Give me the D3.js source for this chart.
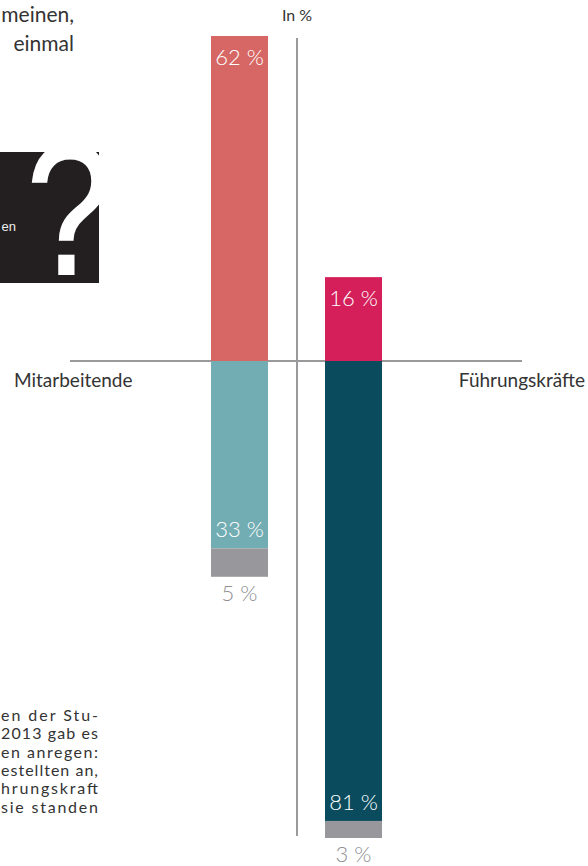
<!DOCTYPE html>
<html>
<head>
<meta charset="utf-8">
<script src="https://cdn.jsdelivr.net/npm/d3@7"></script>
<style>
  html, body { margin: 0; padding: 0; background: #fff; }
  svg { display: block; font-family: Lato, "Noto Sans", sans-serif; }
</style>
</head>
<body>
<div class="chart"></div>
<script>
// groups and answer shares (in %)
const categories = ["Mitarbeitende", "Führungskräfte"];
const yesValues = [62, 16];
const noValues = [33, 81];
const unsureValues = [5, 3];

const colorsYes = ["#D66764", "#D41F5A"];
const colorsNo = ["#72ADB3", "#0A4C5E"];
const colorUnsure = "#98979B";

// text fragments visible at the left edge
const introLines = ["meinen,", "einmal"];
const noteLines = ["en der Stu-", "2013 gab es", "en anregen:", "estellten an,", "hrungskraft", "sie standen"];

const width = 588;
const height = 866;

const svg = d3.select(".chart")
    .append("svg")
    .attr("width", width)
    .attr("height", height);

// scales
const x = d3.scaleBand()
    .domain(categories)
    .range([211, 382])
    .paddingInner(0.5)
    .paddingOuter(0);

const y = d3.scaleLinear()
    .domain([-84, 0, 62])
    .range([838, 361, 36]);

// build segments
const segments = [];
categories.forEach((c, i) => {
  segments.push({ cat: c, y0: 0, y1: yesValues[i], value: yesValues[i], color: colorsYes[i], kind: "yes" });
  segments.push({ cat: c, y0: -noValues[i], y1: 0, value: noValues[i], color: colorsNo[i], kind: "no" });
  segments.push({ cat: c, y0: -noValues[i] - unsureValues[i], y1: -noValues[i], value: unsureValues[i], color: colorUnsure, kind: "unsure" });
});

// top-left intro text
svg.append("g")
  .selectAll("text")
  .data(introLines)
  .enter()
  .append("text")
    .text(d => d)
    .attr("x", 74)
    .attr("y", (d, i) => 22 + i * 29)
    .attr("text-anchor", "end")
    .attr("fill", "#333")
    .style("font-size", "21px");

// black question box
svg.append("rect")
    .attr("x", 0)
    .attr("y", 152)
    .attr("width", 99)
    .attr("height", 131)
    .attr("fill", "#231F20");

svg.append("text")
    .text("?")
    .attr("transform", "translate(69,274) scale(0.82,1)")
    .attr("text-anchor", "middle")
    .attr("fill", "#fff")
    .attr("stroke", "#fff")
    .attr("stroke-width", 2)
    .style("font-family", "'Liberation Sans', Arial, sans-serif")
    .style("font-size", "186px");

svg.append("text")
    .text("en")
    .attr("x", 16)
    .attr("y", 231)
    .attr("text-anchor", "end")
    .attr("fill", "#eee")
    .style("font-family", "'Liberation Sans', Arial, sans-serif")
    .style("font-size", "13px");

// bottom-left note, justified
svg.append("g")
  .selectAll("text")
  .data(noteLines)
  .enter()
  .append("text")
    .text(d => d)
    .attr("x", 1)
    .attr("y", (d, i) => 721 + i * 18.3)
    .attr("textLength", 97)
    .attr("lengthAdjust", "spacing")
    .attr("fill", "#333")
    .style("font-size", "16px");

// axis lines
svg.append("line")
    .attr("x1", 70)
    .attr("x2", 522)
    .attr("y1", y(0))
    .attr("y2", y(0))
    .attr("stroke", "#9A9A9C")
    .attr("stroke-width", 2);

svg.append("line")
    .attr("x1", 297)
    .attr("x2", 297)
    .attr("y1", 38)
    .attr("y2", 836)
    .attr("stroke", "#9A9A9C")
    .attr("stroke-width", 2);

// bars
svg.append("g")
  .selectAll("rect")
  .data(segments)
  .enter()
  .append("rect")
    .attr("x", d => x(d.cat))
    .attr("width", x.bandwidth())
    .attr("y", d => y(d.y1))
    .attr("height", d => y(d.y0) - y(d.y1))
    .attr("fill", d => d.color);

// value labels
svg.append("g")
  .selectAll("text")
  .data(segments)
  .enter()
  .append("text")
    .text(d => `${d.value} %`)
    .attr("x", d => x(d.cat) + x.bandwidth() / 2)
    .attr("y", d => {
      if (d.kind === "yes") return y(d.y1) + 29;
      if (d.kind === "no") return y(d.y0) - 11;
      return y(d.y0) + 24;
    })
    .attr("text-anchor", "middle")
    .attr("fill", d => d.kind === "unsure" ? "#8E8E92" : "#fff")
    .style("font-size", "22px")
    .style("font-weight", 300);

// category labels
svg.append("text")
    .text(categories[0])
    .attr("x", 14)
    .attr("y", 387)
    .attr("fill", "#333")
    .style("font-size", "19px");

svg.append("text")
    .text(categories[1])
    .attr("x", 585)
    .attr("y", 387)
    .attr("text-anchor", "end")
    .attr("fill", "#333")
    .style("font-size", "19px");

svg.append("text")
    .text("In %")
    .attr("x", 297)
    .attr("y", 21)
    .attr("text-anchor", "middle")
    .attr("fill", "#333")
    .style("font-size", "16px");
</script>
</body>
</html>
